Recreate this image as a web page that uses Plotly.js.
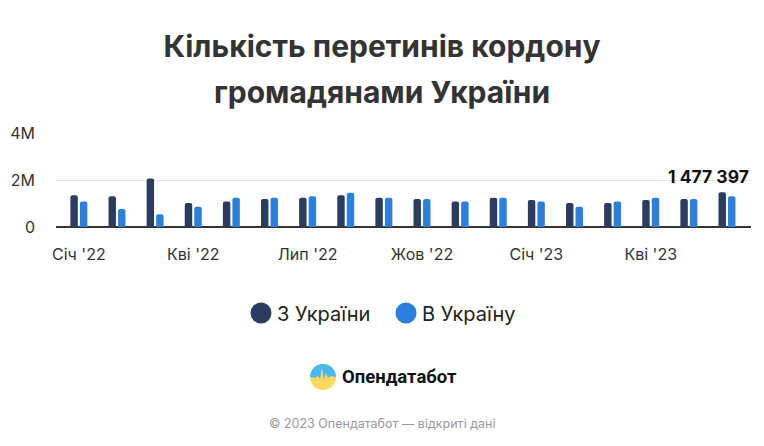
<!DOCTYPE html>
<html>
<head>
<meta charset="utf-8">
<script src="https://cdn.plot.ly/plotly-3.0.1.min.js"></script>
<style>html,body{margin:0;padding:0;background:#fff;}#chart{width:764px;height:446px;}</style>
</head>
<body>
<div id="chart"></div>
<script>
// Data
const months = ["Січ '22","Лют '22","Бер '22","Кві '22","Тра '22","Чер '22","Лип '22","Сер '22","Вер '22","Жов '22","Лис '22","Гру '22",
                "Січ '23","Лют '23","Бер '23","Кві '23","Тра '23","Чер '23"];
const fromUkraine = [1350000,1310000,2060000,1020000,1090000,1190000,1250000,1350000,1250000,1190000,1090000,1250000,
                     1150000,1020000,1020000,1150000,1190000,1477397];
const toUkraine = [1090000,770000,540000,860000,1250000,1250000,1310000,1460000,1250000,1190000,1090000,1250000,
                   1090000,860000,1090000,1250000,1190000,1310000];
const tickLabels = ["Січ '22","Кві '22","Лип '22","Жов '22","Січ '23","Кві '23"];
const seriesNames = ["З України","В Україну"];
const yTickVals = [0,2000000,4000000];
const yTickText = ["0","2M","4M"];

const FONT = "Inter, 'Noto Sans', sans-serif";
const DARK = "#2c3c5e";
const BLUE = "#2b80dd";

const traces = [
  {type:"bar", name:seriesNames[0], x:months, y:fromUkraine, marker:{color:DARK, cornerradius:2}, hoverinfo:"y"},
  {type:"bar", name:seriesNames[1], x:months, y:toUkraine, marker:{color:BLUE, cornerradius:2}, hoverinfo:"y"}
];

const lastIdx = months.length-1;
function fmt(v){return String(v).replace(/\B(?=(\d{3})+(?!\d))/g," ");}
function px(x){return (x-56)/695;}
function py(y){return (227-y)/94;}

const layout = {
  width:764, height:446,
  margin:{l:56, r:13, t:133, b:219},
  paper_bgcolor:"#fff", plot_bgcolor:"#fff",
  font:{family:FONT, color:"#333"},
  showlegend:false,
  barmode:"group", bargap:0.5, bargroupgap:0.22,
  title:{text:"Кількість перетинів кордону", x:0.5, xanchor:"center", y:1-36/446, yanchor:"top", yref:"container",
         font:{family:FONT, size:30, weight:700, color:"#333"}},
  xaxis:{type:"category", range:[-0.6,17.63], tickvals:tickLabels, ticktext:tickLabels, showgrid:false,
         tickfont:{size:16, color:"#333"}, ticks:"", showline:false, fixedrange:true, ticklabelstandoff:16},
  yaxis:{range:[0,4000000], tickvals:yTickVals, ticktext:yTickText, showgrid:true, gridcolor:"#e5e5e5", gridwidth:1,
         zeroline:true, zerolinecolor:"#333", zerolinewidth:1.5, tickfont:{size:16, color:"#333"}, ticks:"",
         ticklabelstandoff:20, fixedrange:true},
  annotations:[
    {text:"громадянами України", xref:"paper", yref:"paper", x:px(382), xanchor:"center", y:py(92), yanchor:"middle",
     showarrow:false, font:{family:FONT, size:30, weight:700, color:"#333"}},
    {text:fmt(fromUkraine[lastIdx]), x:months[lastIdx], y:fromUkraine[lastIdx], xref:"x", yref:"y", xanchor:"center",
     yanchor:"bottom", xshift:-18, yshift:3, showarrow:false, font:{family:FONT, size:17.5, weight:700, color:"#111"}},
    {text:seriesNames[0], xref:"paper", yref:"paper", x:px(275), xanchor:"left", y:py(314), yanchor:"middle",
     showarrow:false, font:{family:FONT, size:20, color:"#222"}},
    {text:seriesNames[1], xref:"paper", yref:"paper", x:px(420), xanchor:"left", y:py(314), yanchor:"middle",
     showarrow:false, font:{family:FONT, size:20, color:"#222"}},
    {text:"Опендатабот", xref:"paper", yref:"paper", x:px(340), xanchor:"left", y:py(377), yanchor:"middle",
     showarrow:false, font:{family:"Roboto, sans-serif", size:18.5, weight:700, color:"#111"}},
    {text:"© 2023 Опендатабот — відкриті дані", xref:"paper", yref:"paper", x:px(382), xanchor:"center", y:py(423), yanchor:"middle",
     showarrow:false, font:{family:FONT, size:12.5, color:"#999"}}
  ],
  shapes:[]
};

function circle(cx,cy,r,color){
  return {type:"circle", xref:"paper", yref:"paper", x0:px(cx-r), x1:px(cx+r), y0:py(cy+r), y1:py(cy-r),
          fillcolor:color, line:{width:0}};
}
layout.shapes.push(circle(261,313,10.5,DARK));
layout.shapes.push(circle(406,313,10.5,BLUE));
// logo: yellow circle, blue top half with jagged edge
const lcx=323, lcy=377, lr=13;
layout.shapes.push(circle(lcx,lcy,lr,"#ffd95a"));
let pts=[];
for(let a=0;a<=180;a+=10){const r=a*Math.PI/180;pts.push([lcx+lr*Math.cos(r), lcy-lr*Math.sin(r)]);}
const jag=[[-13,0],[-8,1],[-5,-1],[-3,2],[-1,-9],[1,3],[3,-4],[5,1],[8,-1],[13,0]];
let path="M"+pts.map(p=>px(p[0]).toFixed(4)+","+py(p[1]).toFixed(4)).join(" L");
for(const j of jag){path+=" L"+px(lcx+j[0]).toFixed(4)+","+py(lcy+j[1]).toFixed(4);}
path+=" Z";
layout.shapes.push({type:"path", xref:"paper", yref:"paper", path:path, fillcolor:"#4ab8f0", line:{width:0}});

Plotly.newPlot("chart", traces, layout, {displayModeBar:false, staticPlot:true});
</script>
</body>
</html>
